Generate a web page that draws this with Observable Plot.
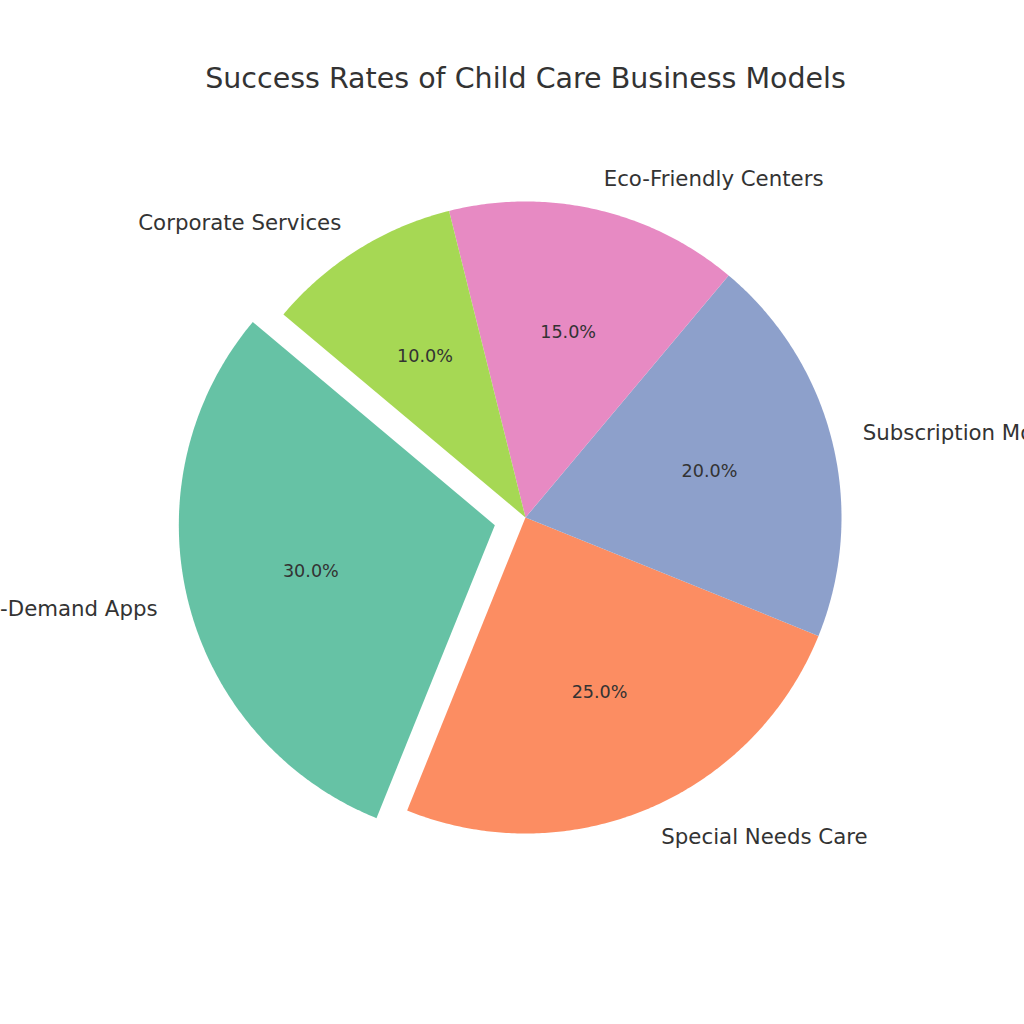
<!DOCTYPE html>
<html>
<head>
<meta charset="utf-8">
<script src="https://cdn.jsdelivr.net/npm/d3@7"></script>
<script src="https://cdn.jsdelivr.net/npm/@observablehq/plot@0.6"></script>
<style>
  html, body { margin: 0; padding: 0; background: #fff; }
  #chart { width: 1024px; height: 1024px; }
</style>
</head>
<body>
<div id="chart"></div>
<script>
const title = "Success Rates of Child Care Business Models";
const categories = ["On-Demand Apps", "Special Needs Care", "Subscription Models", "Eco-Friendly Centers", "Corporate Services"];
const values = [30, 25, 20, 15, 10];
const colors = ["#66c2a5", "#fc8d62", "#8da0cb", "#e78ac3", "#a6d854"];
const explode = [0.1, 0, 0, 0, 0];
const startAngle = 140; // degrees, counterclockwise like matplotlib

const total = d3.sum(values);
const rad = Math.PI / 180;
let acc = startAngle;
const slices = categories.map((c, i) => {
  const span = values[i] / total * 360;
  const a0 = acc, a1 = acc + span;
  acc = a1;
  const mid = (a0 + a1) / 2;
  const ox = explode[i] * Math.cos(mid * rad), oy = explode[i] * Math.sin(mid * rad);
  return {name: c, value: values[i], color: colors[i], a0, a1, mid, ox, oy};
});

// polygon outline of each wedge (geometry from the data)
const wedgePts = [];
for (const s of slices) {
  wedgePts.push({name: s.name, x: s.ox, y: s.oy});
  const n = Math.ceil((s.a1 - s.a0) * 2);
  for (let k = 0; k <= n; k++) {
    const a = (s.a0 + (s.a1 - s.a0) * k / n) * rad;
    wedgePts.push({name: s.name, x: s.ox + Math.cos(a), y: s.oy + Math.sin(a)});
  }
}

const labels = slices.map(s => ({
  name: s.name,
  x: s.ox + 1.1 * Math.cos(s.mid * rad),
  y: s.oy + 1.1 * Math.sin(s.mid * rad)
}));
const pcts = slices.map(s => ({
  text: (s.value / total * 100).toFixed(1) + "%",
  x: s.ox + 0.6 * Math.cos(s.mid * rad),
  y: s.oy + 0.6 * Math.sin(s.mid * rad)
}));

const R = 316, cx = 525, cy = 517, W = 1024, H = 1024;

const chart = Plot.plot({
  width: W, height: H,
  margin: 0,
  style: {fontFamily: "DejaVu Sans", background: "#fff"},
  x: {domain: [-cx / R, (W - cx) / R], range: [0, W], axis: null},
  y: {domain: [-(H - cy) / R, cy / R], range: [H, 0], axis: null},
  color: {domain: categories, range: colors},
  marks: [
    Plot.line(wedgePts, {x: "x", y: "y", z: "name", fill: "name", stroke: "none", curve: "linear-closed"}),
    Plot.text(labels.filter(d => d.x >= 0), {x: "x", y: "y", text: "name", textAnchor: "start", fontSize: 21.3, fill: "#333"}),
    Plot.text(labels.filter(d => d.x < 0), {x: "x", y: "y", text: "name", textAnchor: "end", fontSize: 21.3, fill: "#333"}),
    Plot.text(pcts, {x: "x", y: "y", text: "text", fontSize: 17.6, fill: "#333"}),
    Plot.text([title], {frameAnchor: "top", lineAnchor: "middle", dx: 13, dy: 78, text: d => d, fontSize: 28.5, fill: "#333"})
  ]
});
document.getElementById("chart").appendChild(chart);
</script>
</body>
</html>
